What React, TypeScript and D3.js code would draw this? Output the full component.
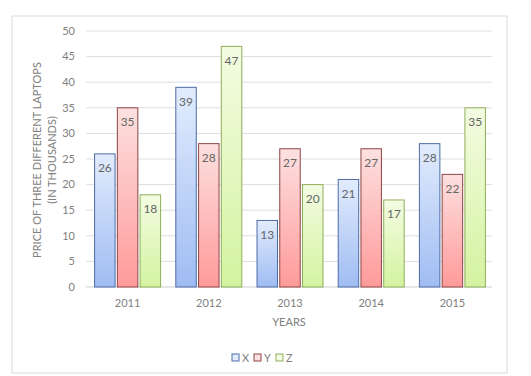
import React from "react";
import * as d3 from "d3";

const years = ["2011", "2012", "2013", "2014", "2015"];
const seriesNames = ["X", "Y", "Z"];
const xValues = [26, 39, 13, 21, 28];
const yValues = [35, 28, 27, 27, 22];
const zValues = [18, 47, 20, 17, 35];
const yTicks = [0, 5, 10, 15, 20, 25, 30, 35, 40, 45, 50];

const seriesValues = [xValues, yValues, zValues];
const styles = [
  { top: "#e2ecfd", bottom: "#9fbcf2", stroke: "#4d6ca6" },
  { top: "#fde0e0", bottom: "#ff9a9a", stroke: "#8e4545" },
  { top: "#f3fce2", bottom: "#d4f3a0", stroke: "#8fae5a" },
];

const FONT = "Lato, 'Open Sans', sans-serif";

export default function App() {
  const W = 531;
  const H = 376;
  const plotLeft = 87;
  const plotRight = 493;
  const x0 = d3.scaleBand<string>().domain(years).range([plotLeft, plotRight]).padding(0);
  const groupW = 66;
  const x1 = d3
    .scaleBand<string>()
    .domain(seriesNames)
    .range([0, groupW])
    .paddingInner(0.1);
  const y = d3.scaleLinear().domain([0, 50]).range([287, 31]);
  const off = (x0.bandwidth() - groupW) / 2;

  return (
    <svg
      width={W}
      height={H}
      style={{ position: "absolute", left: 0, top: 0, background: "#fff" }}
      fontFamily={FONT}
    >
      <defs>
        {styles.map((s, i) => (
          <linearGradient key={i} id={`g${i}`} x1="0" y1="0" x2="0" y2="1">
            <stop offset="0%" stopColor={s.top} />
            <stop offset="100%" stopColor={s.bottom} />
          </linearGradient>
        ))}
      </defs>
      <rect x={12} y={16} width={495} height={357} fill="#fff" stroke="#d9d9d9" />
      {yTicks.map((t) => (
        <g key={t}>
          <line
            x1={86}
            x2={492}
            y1={y(t)}
            y2={y(t)}
            stroke={t === 0 ? "#cfcfcf" : "#dedede"}
            strokeWidth={1}
          />
          <text
            x={75}
            y={y(t)}
            dy="0.35em"
            textAnchor="end"
            fontSize={11}
            fill="#808080"
          >
            {t}
          </text>
        </g>
      ))}
      {years.map((yr, i) => (
        <g key={yr}>
          {seriesNames.map((s, j) => {
            const v = seriesValues[j][i];
            const bx = (x0(yr) as number) + off + (x1(s) as number);
            const bw = x1.bandwidth();
            return (
              <g key={s}>
                <rect
                  x={bx}
                  y={y(v)}
                  width={bw}
                  height={y(0) - y(v)}
                  fill={`url(#g${j})`}
                  stroke={styles[j].stroke}
                  strokeWidth={1}
                />
                <text
                  x={bx + bw / 2}
                  y={y(v) + 14}
                  dy="0.35em"
                  textAnchor="middle"
                  fontSize={12}
                  fill="#666"
                >
                  {v}
                </text>
              </g>
            );
          })}
          <text
            x={(x0(yr) as number) + x0.bandwidth() / 2}
            y={303}
            dy="0.35em"
            textAnchor="middle"
            fontSize={11}
            fill="#808080"
          >
            {yr}
          </text>
        </g>
      ))}
      <text x={289} y={322} dy="0.35em" textAnchor="middle" fontSize={11} fill="#808080">
        YEARS
      </text>
      <g transform="translate(37,160) rotate(-90)">
        <text x={0} y={0} dy="0.35em" textAnchor="middle" fontSize={11} fill="#808080">
          PRICE OF THREE DIFFERENT LAPTOPS
        </text>
        <text x={0} y={15} dy="0.35em" textAnchor="middle" fontSize={11} fill="#808080">
          (IN THOUSANDS)
        </text>
      </g>
      {seriesNames.map((s, j) => {
        const lx = 232 + j * 22;
        return (
          <g key={s}>
            <rect
              x={lx}
              y={354}
              width={7}
              height={7}
              fill={styles[j].top}
              stroke={styles[j].stroke}
              strokeWidth={1}
            />
            <text x={lx + 10} y={358} dy="0.35em" fontSize={11} fill="#808080">
              {s}
            </text>
          </g>
        );
      })}
    </svg>
  );
}
